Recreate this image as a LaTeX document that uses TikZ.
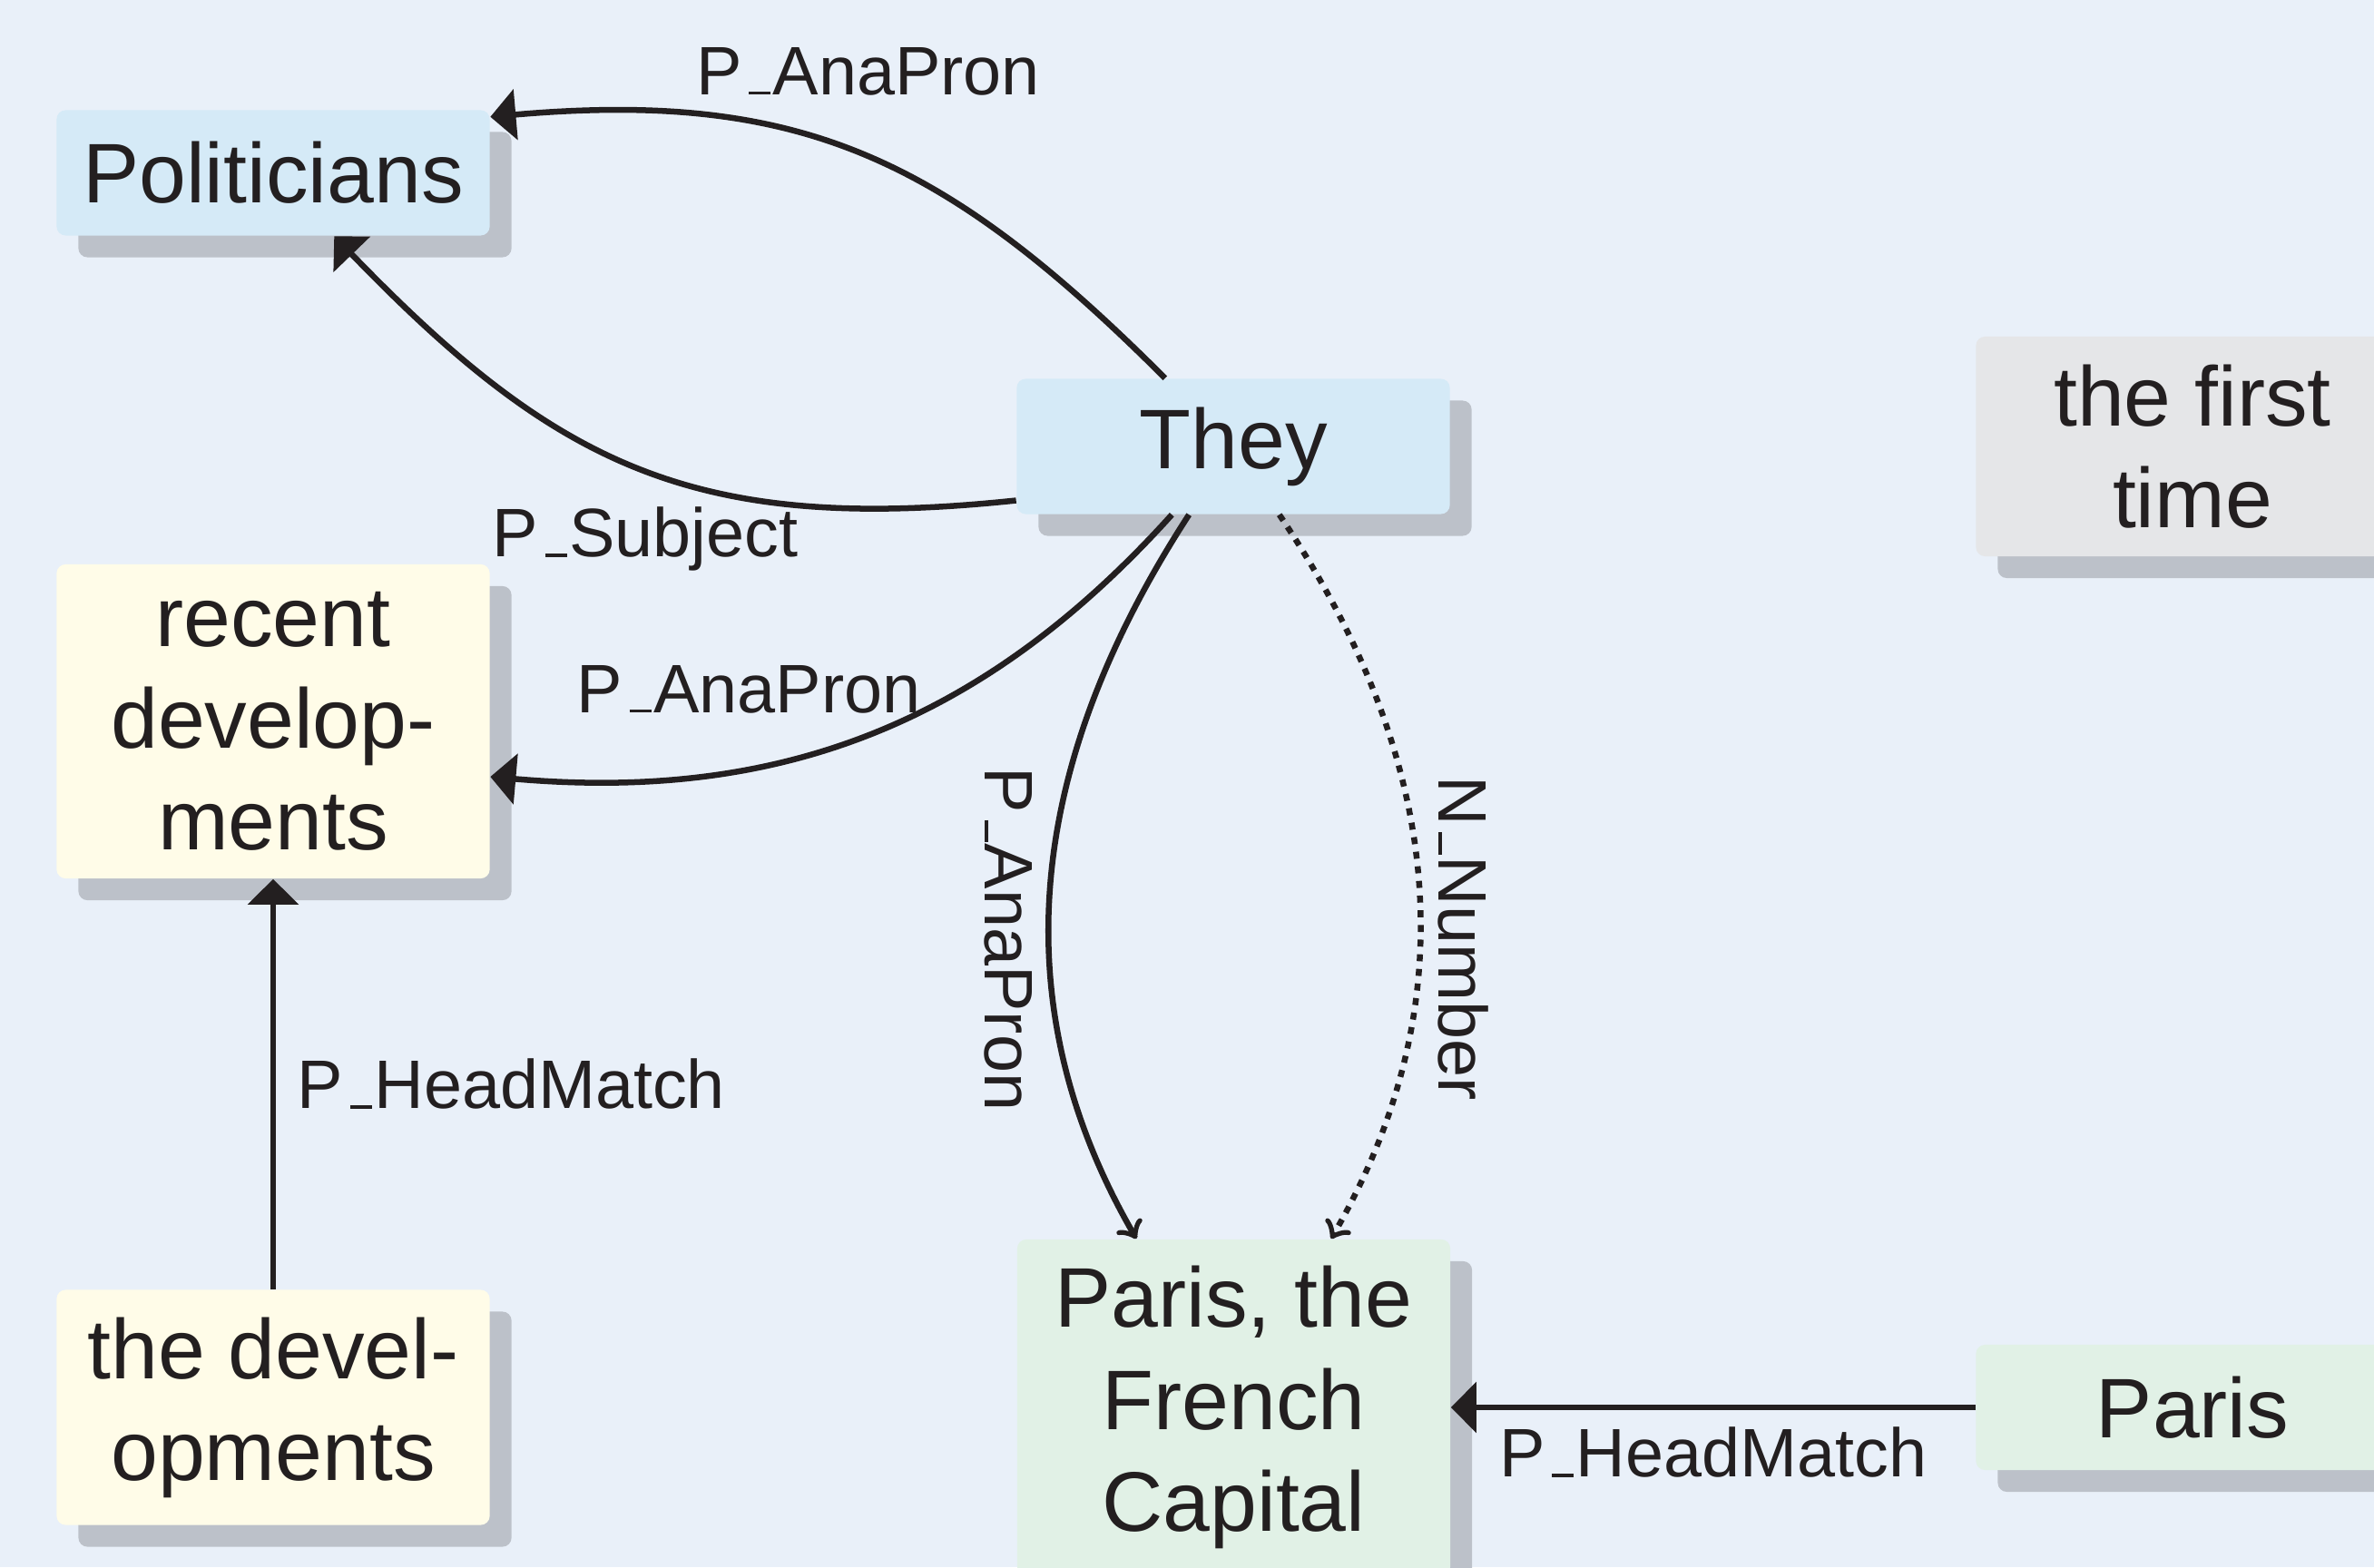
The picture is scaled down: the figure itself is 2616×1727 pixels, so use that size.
\documentclass[tikz,border=0pt]{standalone}
\usepackage{fontspec}
\setmainfont{Liberation Sans}
\usetikzlibrary{arrows.meta,shadows}
\definecolor{bgblue}{HTML}{E9F0F9}
\definecolor{nblue}{HTML}{D5EAF7}
\definecolor{nyellow}{HTML}{FFFCE8}
\definecolor{ngreen}{HTML}{E1F1E6}
\definecolor{ngray}{HTML}{E5E6E8}
\definecolor{shade}{HTML}{BCC1C9}
\definecolor{ink}{HTML}{231F20}
\newcommand{\undsc}{\kern0.1em\rule{0.32em}{0.045em}\kern0.03em}
\tikzset{box/.style={rectangle,rounded corners=0.1cm,minimum width=4.77cm,inner sep=0pt,
    align=center,text=ink,font=\fontsize{26.5}{31.9}\selectfont,
    drop shadow={shadow xshift=0.24cm,shadow yshift=-0.24cm,fill=shade,opacity=1}},
  lbl/.style={font=\fontsize{21.5}{26}\selectfont,text=ink},
  link/.style={draw=ink,line width=1.85pt,-{Triangle[length=0.28cm,width=0.55cm]}},
  barb/.style={draw=ink,line width=1.85pt,-{Classical TikZ Rightarrow[length=0.18cm,width=0.32cm]}}}

\begin{document}
\begin{tikzpicture}[x=0.01cm,y=0.01cm]
\useasboundingbox (0,0) rectangle (2616,1727);
\fill[bgblue] (0,0) rectangle (2616,1727);
% mentions
\node[box,fill=nblue,minimum height=1.38cm] (pol) at (301,1536.5) {Politicians};
\node[box,fill=nblue,minimum height=1.49cm] (they) at (1359,1235) {They};
\node[box,fill=ngray,minimum height=2.42cm] (first) at (2416,1235) {the first\\time};
\node[box,fill=nyellow,minimum height=3.46cm] (recent) at (301,932) {recent\\develop-\\ments};
\node[box,fill=nyellow,minimum height=2.59cm] (devs) at (301,176) {the devel-\\opments};
\node[box,fill=ngreen,minimum height=3.7cm] (pfc) at (1359.5,176) {Paris, the\\French\\Capital};
\node[box,fill=ngreen,minimum height=1.38cm] (paris) at (2416,176) {Paris};
% links
\draw[link] (they) to[out=135,in=5,looseness=1.1] node[lbl,pos=.78,anchor=south west,xshift=0.1cm,yshift=0.05cm] (l1) {P\undsc AnaPron} ([yshift=-0.08cm]pol.north east);
\draw[link] ([yshift=-0.595cm]they.west) to[out=186,in=-46,looseness=1.125] node[lbl,pos=.49,below=0.26cm] (l2) {P\undsc Subject} (pol);
\draw[link] (they) to[out=228,in=-5] node[lbl,pos=.67,above=0.45cm] (l3) {P\undsc AnaPron} ([yshift=-0.61cm]recent.east);
\draw[barb] (they) to[out=237,in=120] node[lbl,pos=.59,rotate=-90,anchor=north,outer sep=0.07cm] (l4) {P\undsc AnaPron} (pfc);
\draw[barb,dash pattern=on 2.2pt off 2.4pt] (they) to[out=-56,in=60] node[lbl,pos=.59,rotate=-90,anchor=south,outer sep=0.08cm] (l5) {N\undsc Number} (pfc);
\draw[link] (devs) -- node[lbl,right=0.12cm] (l6) {P\undsc HeadMatch} (recent);
\draw[link] (paris) -- node[lbl,below=0.07cm] (l7) {P\undsc HeadMatch} (pfc);
\end{tikzpicture}
\end{document}
